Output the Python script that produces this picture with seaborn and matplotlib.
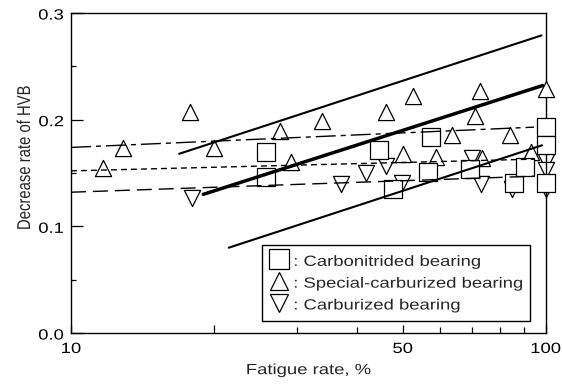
import matplotlib
matplotlib.use("Agg")
import matplotlib.pyplot as plt
from matplotlib.ticker import FixedLocator, FixedFormatter, NullFormatter, FormatStrFormatter
from matplotlib.patheffects import AbstractPathEffect
from matplotlib.transforms import Affine2D
import seaborn as sns

# Carbonitrided bearing
cn_x = [25.7, 25.7, 44.5, 47.7, 56.6, 57.4, 69.2, 85.7, 90.3, 100, 100, 100]
cn_y = [0.170, 0.146, 0.172, 0.135, 0.151, 0.184, 0.154, 0.141, 0.156, 0.193, 0.176, 0.141]

# Special-carburized bearing
sc_x = [11.7, 12.9, 17.8, 20.0, 27.6, 29.1, 33.8, 46.0, 50.0, 52.6, 58.6,
        63.5, 70.8, 72.6, 73.5, 84.1, 93.3, 100, 100]
sc_y = [0.155, 0.173, 0.207, 0.173, 0.189, 0.160, 0.199, 0.207, 0.168, 0.222, 0.165,
        0.186, 0.203, 0.227, 0.164, 0.186, 0.170, 0.229, 0.190]

# Carburized bearing
cb_x = [18.0, 37.1, 41.9, 46.1, 49.9, 70.1, 72.9, 85.0, 100, 100, 100]
cb_y = [0.127, 0.140, 0.150, 0.157, 0.141, 0.164, 0.140, 0.135, 0.160, 0.153, 0.135]

# Trend lines (end points)
upper_x, upper_y = [16.9, 98.0], [0.168, 0.279]
mid_x, mid_y = [19.0, 98.5], [0.130, 0.232]
lower_x, lower_y = [21.5, 98.3], [0.080, 0.176]
dashdot_x, dashdot_y = [10.0, 94.5], [0.174, 0.193]
dotted_x, dotted_y = [10.0, 94.5], [0.152, 0.163]
dashed_x, dashed_y = [10.0, 94.5], [0.132, 0.147]

x_ticks = [10, 20, 50, 100]
x_ticklabels = ["10", "", "50", "100"]
x_minor = [30, 40, 60, 70, 80, 90]
y_ticks = [0.0, 0.1, 0.2, 0.3]
y_minor = [0.05, 0.15, 0.25]

legend_labels = [": Carbonitrided bearing", ": Special-carburized bearing",
                 ": Carburized bearing"]


class GlyphScale(AbstractPathEffect):
    """Scale glyph outlines in their own (baseline-aligned) frame."""

    def __init__(self, sx=1.0, sy=1.0):
        super().__init__()
        self.sx, self.sy = sx, sy

    def draw_path(self, renderer, gc, tpath, affine, rgbFace=None):
        renderer.draw_path(gc, tpath, Affine2D().scale(self.sx, self.sy) + affine, rgbFace)


sns.set_style("ticks")
plt.rcParams["font.family"] = ["Liberation Sans", "DejaVu Sans"]
plt.rcParams["lines.scale_dashes"] = False

FS = 13.3
squash = [GlyphScale(1.0, 0.8)]

fig = plt.figure(figsize=(5.62, 3.87), dpi=100)
ax = fig.add_axes([0.1263, 0.1395, 0.8447, 0.8269])

mk = dict(facecolor="white", edgecolor="black", linewidth=0.9, legend=False,
          ax=ax, clip_on=False)
sns.scatterplot(x=cb_x, y=cb_y, marker="v", s=135, zorder=2, **mk)
sns.scatterplot(x=sc_x, y=sc_y, marker="^", s=135, zorder=3, **mk)
sns.scatterplot(x=cn_x, y=cn_y, marker="s", s=185, zorder=4, **mk)

lines = [
    (upper_x, upper_y, 1.5, "-"),
    (mid_x, mid_y, 2.5, "-"),
    (lower_x, lower_y, 1.5, "-"),
    (dashdot_x, dashdot_y, 1.0, (0, (14.4, 3.6, 3.6, 3.6))),
    (dotted_x, dotted_y, 1.0, (0, (4.3, 2.9))),
    (dashed_x, dashed_y, 1.0, (0, (10.8, 5.0))),
]
for lx, ly, lw, ls in lines:
    sns.lineplot(x=lx, y=ly, color="black", linewidth=lw, linestyle=ls,
                 estimator=None, sort=False, ax=ax, zorder=5)

ax.set_xscale("log")
ax.set_xlim(10, 100)
ax.set_ylim(0, 0.3)

ax.xaxis.set_major_locator(FixedLocator(x_ticks))
ax.xaxis.set_major_formatter(FixedFormatter(x_ticklabels))
ax.xaxis.set_minor_locator(FixedLocator(x_minor))
ax.xaxis.set_minor_formatter(NullFormatter())
ax.yaxis.set_major_locator(FixedLocator(y_ticks))
ax.yaxis.set_minor_locator(FixedLocator(y_minor))
ax.yaxis.set_major_formatter(FormatStrFormatter("%.1f"))

ax.tick_params(axis="both", which="both", direction="in", colors="black",
               labelsize=FS, width=0.9)
ax.tick_params(axis="x", which="major", length=6, pad=5)
ax.tick_params(axis="x", which="minor", length=4)
ax.tick_params(axis="y", which="major", length=8.4, pad=5)
ax.tick_params(axis="y", which="minor", length=3.6)

for sp in ax.spines.values():
    sp.set_color("black")
    sp.set_linewidth(1.0)

ax.set_xlabel("Fatigue rate, %", fontsize=FS, labelpad=3)
ax.set_ylabel("Decrease rate of HVB", fontsize=10.7)
ax.yaxis.set_label_coords(-0.08, 0.548)
ax.yaxis.label.set_path_effects([GlyphScale(1.0, 1.25)])
ax.xaxis.label.set_path_effects(squash)

fig.canvas.draw()
for t in ax.get_xticklabels() + ax.get_yticklabels():
    t.set_path_effects(squash)

handles = [
    plt.Line2D([], [], marker="s", markersize=14, markerfacecolor="white",
               markeredgecolor="black", markeredgewidth=0.9, linestyle="none"),
    plt.Line2D([], [], marker="^", markersize=13, markerfacecolor="white",
               markeredgecolor="black", markeredgewidth=0.9, linestyle="none"),
    plt.Line2D([], [], marker="v", markersize=13, markerfacecolor="white",
               markeredgecolor="black", markeredgewidth=0.9, linestyle="none"),
]
leg = ax.legend(handles, legend_labels, loc="lower left", bbox_to_anchor=(0.402, 0.038),
                fontsize=FS, frameon=True, fancybox=False, edgecolor="black",
                framealpha=1, borderpad=0.4, labelspacing=0.26, handlelength=1.1,
                handletextpad=0.2, borderaxespad=0)
leg.get_frame().set_linewidth(1.0)
leg.set_zorder(10)
for t in leg.get_texts():
    t.set_path_effects(squash)

fig.savefig("out.png", dpi=100)
